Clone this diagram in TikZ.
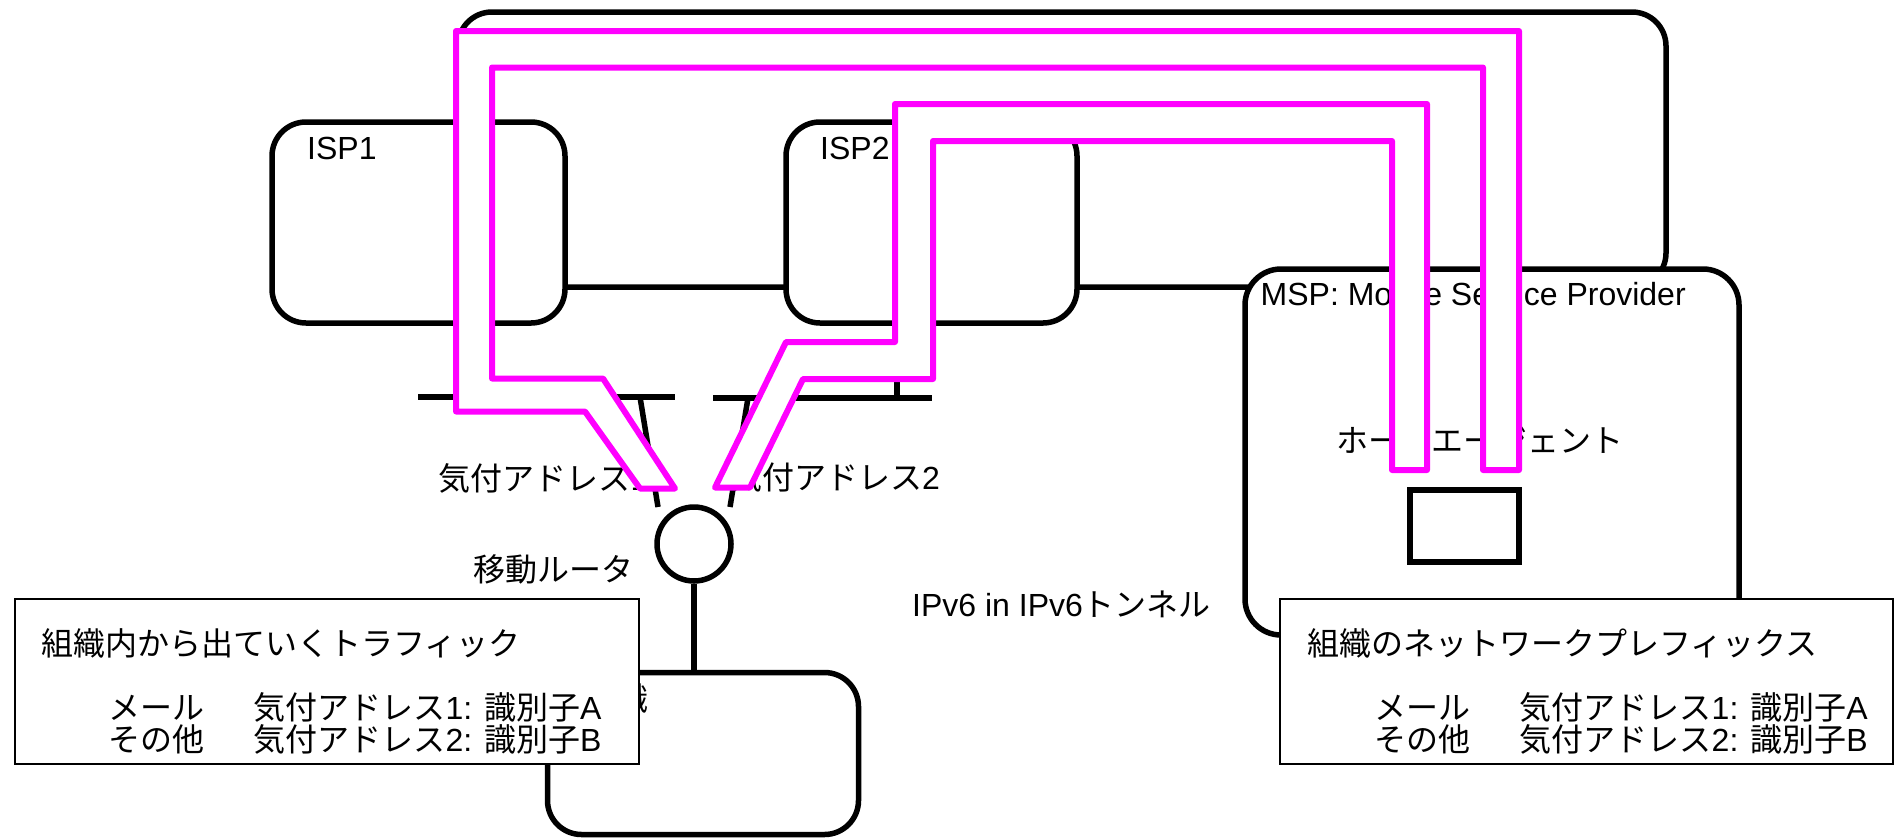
\documentclass[tikz,border=0pt]{standalone}
\usepackage{fontspec}
\setmainfont{Liberation Sans}
\newfontfamily\jpfont{Noto Sans CJK JP}
\usepackage{tikz}
\definecolor{tunnelpink}{RGB}{255,0,255}
\newcommand{\jp}[1]{{\jpfont #1}}

\begin{document}
\begin{tikzpicture}[x=1pt,y=-1pt]
\tikzstyle{netbox}=[draw,line width=5.5pt,rounded corners=34pt,fill=white,inner sep=0pt]
\tikzstyle{wire}=[line width=5.5pt]
\tikzstyle{lbl}=[font=\fontsize{32}{32}\selectfont,inner sep=0pt]
\tikzstyle{tunnel}=[draw=tunnelpink,line width=6pt,fill=white,line join=round]
\tikzstyle{infobox}=[draw,line width=1.6pt,fill=white,inner sep=0pt]

\path[use as bounding box,fill=white] (0,0) rectangle (1894,839);

% backbone and provider networks
\node[netbox,fill=none,minimum width=1208pt,minimum height=275pt] (core) at (1062,149.5) {};
\node[netbox,minimum width=293pt,minimum height=201pt] (isp1) at (418.5,222.5) {};
\node[netbox,minimum width=291pt,minimum height=201pt] (isp2) at (931.5,222.5) {};
\node[netbox,rounded corners=36pt,minimum width=494pt,minimum height=366pt] (msp) at (1492,452) {};
\node[netbox,minimum width=311pt,minimum height=162pt] (org) at (703,753.5) {};

% links of the mobile router
\coordinate (lan1w) at (418,397); \coordinate (lan1e) at (675,397);
\coordinate (lan2w) at (713,398); \coordinate (lan2e) at (932,398);
\coordinate (up1) at (474,397); \coordinate (up2) at (897,398);
\coordinate (dn1) at (640,397); \coordinate (dn2) at (748,398);
\coordinate (rt1) at (658,507); \coordinate (rt2) at (730,507);
\draw[wire] (lan1w)--(lan1e);
\draw[wire] (lan2w)--(lan2e);
\draw[wire] (isp1.south -| up1)--(up1);
\draw[wire] (isp2.south -| up2)--(up2);
\draw[wire] (dn1)--(rt1);
\draw[wire] (dn2)--(rt2);

\node[draw,circle,line width=5.5pt,fill=white,minimum size=74pt,inner sep=0pt] (router) at (694,544) {};
\draw[wire] (router)--(router |- org.north);
\node[draw,line width=6pt,minimum width=109pt,minimum height=72pt,inner sep=0pt] (ha) at (1464.5,526) {};

% labels
\node[lbl,anchor=base west] (isp1lbl) at (307,159) {ISP1};
\node[lbl,anchor=base west] (isp2lbl) at (820,159) {ISP2};
\node[lbl,anchor=base west] (msplbl) at (1260.5,305) {MSP: Mobile Service Provider};
\node[lbl,anchor=base west] (orglbl) at (584,710) {\jp{組織}};
\node[lbl,anchor=base] (halbl) at (1480,452) {\jp{ホームエージェント}};
\node[lbl,anchor=base west] (coa1lbl) at (438.5,490) {\jp{気付アドレス}1};
\node[lbl,anchor=base east] (coa2lbl) at (940,489.5) {\jp{気付アドレス}2};
\node[lbl,anchor=base west] (mrlbl) at (473,581) {\jp{移動ルータ}};
\node[lbl,anchor=base west] (tunlbl) at (912,616.5) {IPv6 in IPv6\jp{トンネル}};

% tunnels
\draw[tunnel] (456,31)--(1519,31)--(1519,470)--(1483,470)--(1483,67.5)--(492,67.5)--(492,378.5)
  --(603,378.5)--(675,488.5)--(640,488.5)--(585,411.5)--(456,411.5)--cycle;
\draw[tunnel] (895,104)--(1427,104)--(1427,470)--(1392,470)--(1392,141)--(933,141)--(933,379)
  --(803,379)--(750,487.5)--(715,487.5)--(786,342)--(895,342)--cycle;

% address tables
\node[infobox,minimum width=624pt,minimum height=165pt] (outbox) at (327,681.5) {};
\node[lbl,anchor=base west] (outttl) at (41,655) {\jp{組織内から出ていくトラフィック}};
\node[lbl,anchor=base west] (outr1) at (108,719) {\makebox[145.5pt][l]{\jp{メール}}\jp{気付アドレス}1: \jp{識別子}A};
\node[lbl,anchor=base west] (outr2) at (108,751) {\makebox[145.5pt][l]{\jp{その他}}\jp{気付アドレス}2: \jp{識別子}B};

\node[infobox,minimum width=613pt,minimum height=165pt] (pfxbox) at (1586.5,681.5) {};
\node[lbl,anchor=base west] (pfxttl) at (1307,655) {\jp{組織のネットワークプレフィックス}};
\node[lbl,anchor=base west] (pfxr1) at (1374,719) {\makebox[145.5pt][l]{\jp{メール}}\jp{気付アドレス}1: \jp{識別子}A};
\node[lbl,anchor=base west] (pfxr2) at (1374,751) {\makebox[145.5pt][l]{\jp{その他}}\jp{気付アドレス}2: \jp{識別子}B};
\end{tikzpicture}
\end{document}
